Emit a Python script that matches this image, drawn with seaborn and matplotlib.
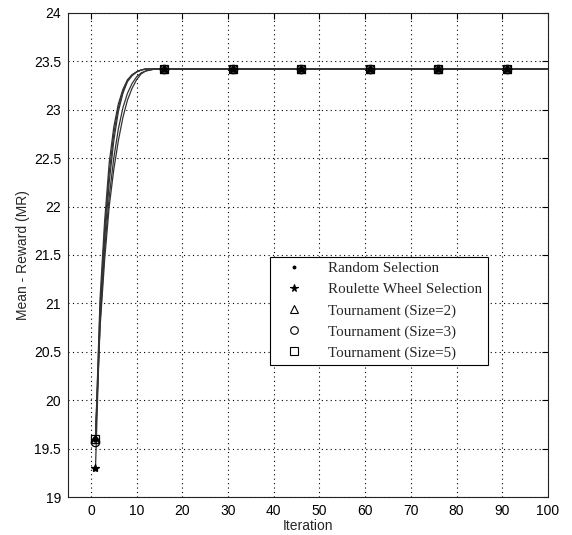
import matplotlib
matplotlib.use("Agg")
import matplotlib.pyplot as plt
import seaborn as sns
import pandas as pd
from matplotlib.lines import Line2D

# ---- data ----
PLATEAU = 23.42
N_ITER = 100
series_names = ["Random Selection", "Roulette Wheel Selection", "Tournament (Size=2)",
                "Tournament (Size=3)", "Tournament (Size=5)"]
random_sel = [19.60, 21.05, 21.85, 22.45, 22.82, 23.06, 23.21, 23.31, 23.36, 23.39, 23.41]
roulette = [19.30, 20.85, 21.65, 22.25, 22.68, 22.98, 23.17, 23.29, 23.35, 23.39, 23.41]
tourn2 = [19.60, 20.95, 21.75, 22.35, 22.75, 23.02, 23.19, 23.30, 23.36, 23.39, 23.41]
tourn3 = [19.57, 20.80, 21.55, 22.10, 22.50, 22.80, 23.02, 23.17, 23.27, 23.34, 23.38, 23.40, 23.41]
tourn5 = [19.60, 20.75, 21.45, 22.00, 22.38, 22.68, 22.92, 23.10, 23.22, 23.31, 23.37, 23.40, 23.41]
marker_iters = [1, 16, 31, 46, 61, 76, 91]
markers = [".", "*", "^", "o", "s"]
x_ticks = [0, 10, 20, 30, 40, 50, 60, 70, 80, 90, 100]
y_ticks = [19, 19.5, 20, 20.5, 21, 21.5, 22, 22.5, 23, 23.5, 24]

all_series = [random_sel, roulette, tourn2, tourn3, tourn5]
rows = []
for name, vals in zip(series_names, all_series):
    full = vals + [PLATEAU] * (N_ITER - len(vals))
    for i, v in enumerate(full, start=1):
        rows.append({"Iteration": i, "value": v, "series": name})
df = pd.DataFrame(rows)
df_mk = df[df["Iteration"].isin(marker_iters)]

sns.set_style("white")
plt.rcParams["font.family"] = ["Liberation Sans", "DejaVu Sans"]

fig = plt.figure(figsize=(5.72, 5.35), dpi=100)
ax = fig.add_axes([0.119, 0.071, 0.839, 0.905])

for name in series_names:
    sub = df[df["series"] == name]
    sns.lineplot(data=sub, x="Iteration", y="value", ax=ax, color="#333333",
                 linewidth=0.9, legend=False)

for name, mk in zip(series_names, markers):
    sub = df_mk[df_mk["series"] == name]
    filled = mk in (".", "*")
    ax.plot(sub["Iteration"], sub["value"], linestyle="none", marker=mk,
            markersize=7 if mk == "." else 6,
            markerfacecolor="black" if filled else "none",
            markeredgecolor="black", markeredgewidth=0.9, zorder=3)

ax.set_xlim(-5, 100)
ax.set_ylim(19, 24)
ax.set_xticks(x_ticks)
ax.set_yticks(y_ticks)
ax.set_yticklabels([f"{t:g}" for t in y_ticks])
ax.tick_params(direction="in", length=4, width=0.8, labelsize=10, colors="black",
               top=True, right=True, pad=5)
ax.grid(True, linestyle=(0, (1, 3)), color="black", linewidth=0.8)
for s in ax.spines.values():
    s.set_color("#222222")
    s.set_linewidth(0.8)
    s.set_visible(True)
ax.set_xlabel("Iteration", fontsize=10, labelpad=1)
ax.set_ylabel("Mean - Reward (MR)", fontsize=10, labelpad=3)

handles = []
for mk in markers:
    filled = mk in (".", "*")
    handles.append(Line2D([], [], linestyle="none", marker=mk,
                          markersize=4 if mk == "." else 5.5,
                          markerfacecolor="black" if filled else "none",
                          markeredgecolor="black", markeredgewidth=0.8))
leg = ax.legend(handles, series_names, loc="upper left", bbox_to_anchor=(0.406, 0.512),
                frameon=True, fancybox=False, edgecolor="black", framealpha=1,
                prop={"family": "Liberation Serif", "size": 10.8},
                handletextpad=1.0, borderpad=0.35, labelspacing=0.5, handlelength=2.5)
leg.get_frame().set_linewidth(0.8)

fig.savefig("out.png", dpi=100)
